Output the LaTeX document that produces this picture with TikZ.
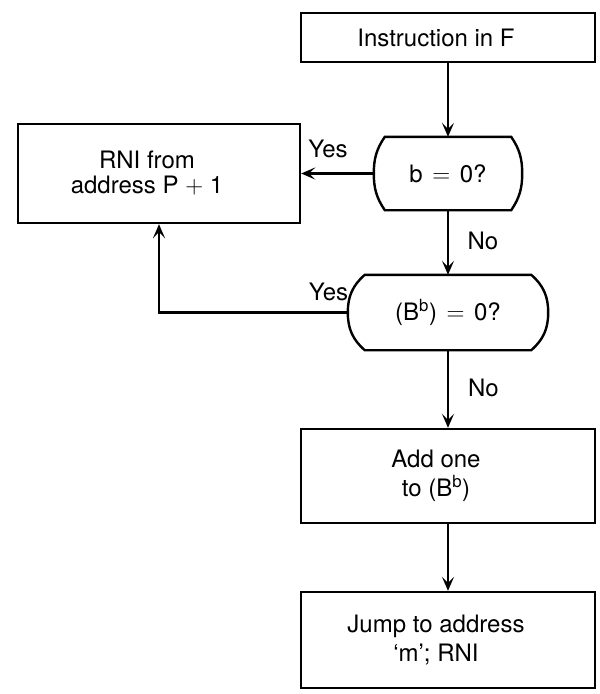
\documentclass[tikz,border=0pt]{standalone}
\usepackage{fontspec}
\setmainfont{TeX Gyre Heros}
\usetikzlibrary{arrows.meta,calc}
\newcommand{\dshape}[3]{%
  \draw[shapeline] ([xshift=#2pt]#1.north west) -- ([xshift=-#2pt]#1.north east)
    to[out=-#3,in=90] (#1.east) to[out=-90,in=#3] ([xshift=-#2pt]#1.south east)
    -- ([xshift=#2pt]#1.south west) to[out=180-#3,in=-90] (#1.west)
    to[out=90,in=180+#3] cycle;}
\newcommand{\sh}{\hspace*{24pt}}
\newcommand{\eqs}{\hspace{0.4em}$=$\hspace{0.4em}}
\begin{document}
\begin{tikzpicture}[x=1pt,y=1pt,
  every node/.style={font=\fontsize{24}{29}\selectfont},
  procbox/.style={draw, line width=2.4pt, minimum width=294pt, align=center, inner sep=0pt},
  decbox/.style={inner sep=0pt, align=center},
  shapeline/.style={line width=2.4pt},
  arr/.style={line width=2.4pt, -{Stealth[length=14pt,width=12pt,inset=6pt]}},
  lbl/.style={anchor=base, inner sep=0pt}]
\useasboundingbox (0,0) rectangle (600,-694);
\node[procbox, minimum height=49pt] (instr) at (448,-37.5) {Instruction in F\sh};
\node[decbox, minimum width=148pt, minimum height=73pt] (d1) at (448,-173.5)
  {b\eqs 0?};
\dshape{d1}{11}{56}
\node[procbox, minimum width=282pt, minimum height=99pt,
  font=\fontsize{24}{25}\selectfont] (rni) at (159,-173.5)
  {RNI from\sh\\address P $+$ 1\sh};
\node[decbox, minimum width=200pt, minimum height=75pt] (d2) at (448,-312.5)
  {(B\textsuperscript{b})\eqs 0?};
\dshape{d2}{17}{41}
\node[procbox, minimum height=94pt] (add) at (448,-476) {Add one\sh\\to (B\textsuperscript{b})\sh};
\node[procbox, minimum height=96pt] (jump) at (448,-640) {Jump to address\sh\\‘m’; RNI\sh};
\draw[arr] (instr.south) -- (d1.north);
\draw[arr] (d1.west) -- (d1.west -| rni.east);
\draw[arr] (d1.south) -- (d2.north);
\draw[arr] (d2.west) -| (rni.south);
\draw[arr] (d2.south) -- (add.north);
\draw[arr] (add.south) -- (jump.north);
\node[lbl] (yes1) at (328,-157) {Yes};
\node[lbl] (yes2) at (328.5,-300) {Yes};
\node[lbl] (no1) at (483,-249) {No};
\node[lbl] (no2) at (483.5,-396) {No};
\end{tikzpicture}
\end{document}
